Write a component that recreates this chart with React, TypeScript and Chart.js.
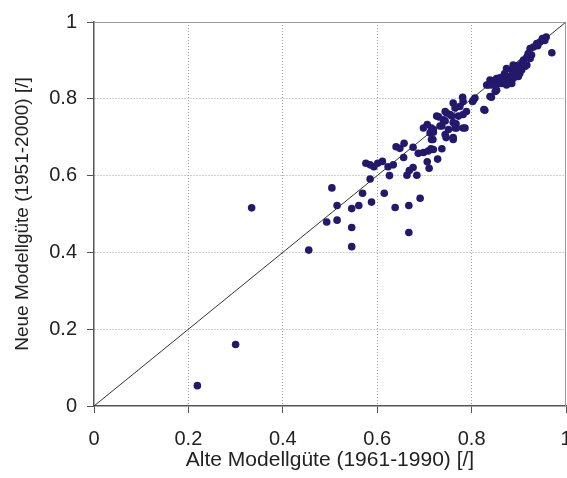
import React, { useEffect, useRef } from "react";
import { Chart, registerables } from "chart.js";

Chart.register(...registerables);

// Alte Modellgüte (1961-1990)
const oldScore = [
  0.219, 0.300, 0.334, 0.455, 0.493, 0.504, 0.515, 0.515, 0.546, 0.546,
  0.546, 0.561, 0.569, 0.588, 0.615, 0.638, 0.667, 0.691, 0.667, 0.585,
  0.576, 0.585, 0.593, 0.601, 0.611, 0.623, 0.634, 0.626, 0.640, 0.648,
  0.657, 0.656, 0.676, 0.663, 0.668, 0.676, 0.684, 0.687, 0.698, 0.708,
  0.714, 0.706, 0.710, 0.718, 0.728, 0.737, 0.746, 0.712, 0.698, 0.715,
  0.719, 0.730, 0.737, 0.744, 0.747, 0.706, 0.726, 0.740, 0.744, 0.758,
  0.761, 0.765, 0.775, 0.781, 0.782, 0.767, 0.765, 0.744, 0.761, 0.782,
  0.802, 0.807, 0.826, 0.835, 0.839, 0.842, 0.850, 0.853, 0.853, 0.864,
  0.871, 0.860, 0.874, 0.958, 0.955, 0.970, 0.945, 0.938, 0.931, 0.924,
  0.927, 0.917, 0.924, 0.910, 0.906, 0.917, 0.899, 0.906, 0.913, 0.888,
  0.885, 0.892, 0.881, 0.888, 0.899, 0.902, 0.867, 0.878, 0.885, 0.850,
  0.832, 0.842, 0.853, 0.864, 0.874, 0.839, 0.828, 0.804, 0.772, 0.754,
  0.751, 0.768, 0.786, 0.733, 0.719, 0.761, 0.715, 0.719, 0.789, 0.782,
  0.761, 0.950, 0.940, 0.920, 0.895, 0.870, 0.860,
];

// Neue Modellgüte (1951-2000)
const newScore = [
  0.053, 0.160, 0.516, 0.406, 0.479, 0.568, 0.522, 0.484, 0.514, 0.465,
  0.415, 0.522, 0.554, 0.531, 0.554, 0.517, 0.522, 0.541, 0.452, 0.591,
  0.632, 0.628, 0.623, 0.632, 0.637, 0.623, 0.628, 0.600, 0.675, 0.671,
  0.684, 0.647, 0.674, 0.601, 0.613, 0.621, 0.601, 0.658, 0.660, 0.664,
  0.670, 0.636, 0.619, 0.694, 0.643, 0.670, 0.699, 0.711, 0.724, 0.724,
  0.713, 0.753, 0.729, 0.742, 0.763, 0.733, 0.755, 0.745, 0.767, 0.755,
  0.789, 0.776, 0.780, 0.804, 0.793, 0.735, 0.724, 0.707, 0.699, 0.724,
  0.793, 0.802, 0.772, 0.836, 0.849, 0.804, 0.819, 0.822, 0.853, 0.856,
  0.862, 0.840, 0.879, 0.961, 0.952, 0.920, 0.948, 0.944, 0.935, 0.931,
  0.914, 0.909, 0.905, 0.901, 0.892, 0.888, 0.879, 0.875, 0.884, 0.888,
  0.875, 0.866, 0.858, 0.853, 0.858, 0.866, 0.853, 0.845, 0.840, 0.849,
  0.836, 0.836, 0.840, 0.840, 0.836, 0.806, 0.770, 0.797, 0.755, 0.759,
  0.720, 0.724, 0.724, 0.729, 0.720, 0.694, 0.694, 0.668, 0.767, 0.759,
  0.738, 0.957, 0.938, 0.918, 0.886, 0.866, 0.855,
];

// 1:1 reference line endpoints
const diagX = [0, 1];
const diagY = [0, 1];

// axis tick labels
const tickLabels = ["0", "0.2", "0.4", "0.6", "0.8", "1"];
const axisMin = 0;
const axisMax = 1;
const axisStep = 0.2;

const xTitle = "Alte Modellgüte (1961-1990) [/]";
const yTitle = "Neue Modellgüte (1951-2000) [/]";

const FONT = "'Liberation Sans', Arial, Helvetica, sans-serif";
const DOT = "#24186c";

const frame = {
  id: "frame",
  afterDraw(chart: any) {
    const { ctx, chartArea: a } = chart;
    ctx.save();
    ctx.strokeStyle = "#9a9a9a";
    ctx.lineWidth = 1;
    ctx.beginPath();
    ctx.moveTo(a.left, a.top + 0.5);
    ctx.lineTo(a.right - 0.5, a.top + 0.5);
    ctx.lineTo(a.right - 0.5, a.bottom);
    ctx.stroke();
    ctx.restore();
  },
};

const fmt = (v: any) => {
  const i = Math.round(Number(v) / axisStep);
  return tickLabels[i] ?? "";
};

export default function App() {
  const ref = useRef<HTMLCanvasElement | null>(null);
  useEffect(() => {
    document.body.style.overflow = "hidden";
    const points = oldScore.map((x, i) => ({ x, y: newScore[i] }));
    const diag = diagX.map((x, i) => ({ x, y: diagY[i] }));
    const gridColor = (c: any) =>
      c.tick && (c.tick.value === axisMin || c.tick.value === axisMax)
        ? "rgba(0,0,0,0)"
        : "#a0a0a0";
    const chart = new Chart(ref.current!, {
      type: "scatter",
      data: {
        datasets: [
          {
            type: "line",
            data: diag,
            borderColor: "#333333",
            borderWidth: 1,
            pointRadius: 0,
            fill: false,
            order: 2,
          } as any,
          {
            data: points,
            backgroundColor: DOT,
            borderWidth: 0,
            pointRadius: 3.8,
            order: 1,
          },
        ],
      },
      options: {
        animation: false,
        responsive: true,
        maintainAspectRatio: false,
        layout: { padding: { left: 0, top: 18, right: 34, bottom: 0 } },
        plugins: { legend: { display: false }, tooltip: { enabled: false } },
        scales: {
          x: {
            type: "linear",
            min: axisMin,
            max: axisMax,
            ticks: {
              stepSize: axisStep,
              color: "#222",
              font: { family: FONT, size: 20 },
              padding: 14,
              maxRotation: 0,
              callback: fmt,
            },
            grid: {
              color: gridColor,
              tickColor: "#555",
              tickLength: 7,
              lineWidth: 1,
            },
            border: { display: true, color: "#555", width: 1.5, dash: [1, 2] },
            title: {
              display: true,
              text: xTitle,
              color: "#222",
              font: { family: FONT, size: 21 },
              padding: { top: 0, bottom: 5 },
            },
            afterFit(s: any) {
              s.height = 72;
            },
          },
          y: {
            type: "linear",
            min: axisMin,
            max: axisMax,
            ticks: {
              stepSize: axisStep,
              color: "#222",
              font: { family: FONT, size: 20 },
              padding: 10,
              callback: fmt,
            },
            grid: {
              color: gridColor,
              tickColor: "#555",
              tickLength: 7,
              lineWidth: 1,
            },
            border: { display: true, color: "#555", width: 1.5, dash: [1, 2] },
            title: {
              display: true,
              text: yTitle,
              color: "#222",
              font: { family: FONT, size: 19 },
              padding: { top: 11, bottom: 0 },
            },
            afterFit(s: any) {
              s.width = 94;
            },
          },
        },
      },
      plugins: [frame],
    });
    return () => chart.destroy();
  }, []);
  return (
    <div style={{ position: "fixed", left: 0, top: 0, width: 600, height: 478 }}>
      <canvas ref={ref} />
    </div>
  );
}
